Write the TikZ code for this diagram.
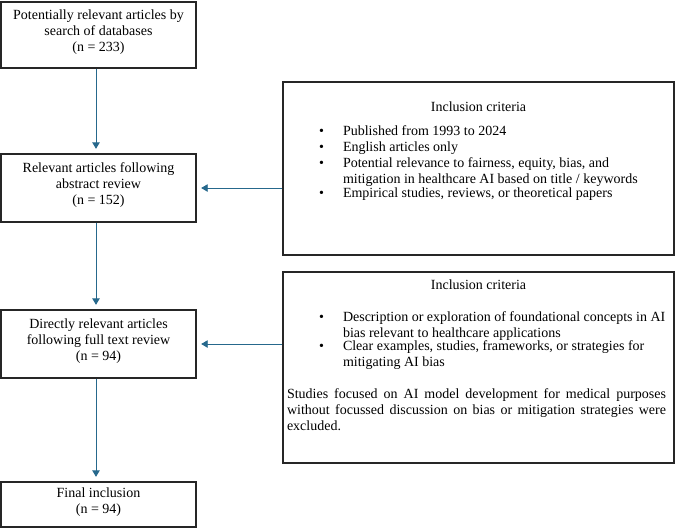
\documentclass[tikz,border=0pt]{standalone}
\usepackage{fontspec}
\setmainfont{Liberation Serif}
\usetikzlibrary{arrows.meta,positioning}
\definecolor{flowblue}{RGB}{38,104,140}
\newcommand{\critem}[1]{\noindent\hspace*{36pt}\makebox[24pt][l]{\textbullet}\parbox[t]{325pt}{#1}\par}

\begin{document}
\begin{tikzpicture}[x=1pt,y=1pt,
	stagebox/.style={draw=black!85,line width=1.4pt,align=center,minimum width=195pt,inner sep=2pt,text depth=8pt,font=\fontsize{14}{16}\selectfont},
	critbox/.style={draw=black!85,line width=1.4pt,inner sep=0pt,font=\fontsize{14}{16}\selectfont},
	flow/.style={flowblue,line width=0.9pt,-{Triangle[width=7.5pt,length=6.5pt]},shorten >=4.5pt}]
\useasboundingbox (0,0) rectangle (676,-528);
\node [stagebox,minimum height=66pt]	(search)	at (98.5,-35)	{Potentially relevant articles by\\search of databases\\(n = 233)};
\node [stagebox,minimum height=68pt]	(abstract)	at (98.5,-188)	{Relevant articles following\\abstract review\\(n = 152)};
\node [stagebox,minimum height=68pt]	(fulltext)	at (98.5,-344)	{Directly relevant articles\\following full text review\\(n = 94)};
\node [stagebox,minimum height=45pt]	(final)	at (98.5,-504.5)	{Final inclusion\\(n = 94)};

\node [critbox]	(critA)	at (478.5,-168.5)	{\parbox[t][173pt][t]{391pt}{\vspace*{19.9pt}
	{\centering Inclusion criteria\par}
	\vspace{8pt}
	\critem{Published from 1993 to 2024}
	\critem{English articles only}
	\critem{Potential relevance to fairness, equity, bias, and\\mitigation in healthcare AI based on title / keywords}
	\critem{Empirical studies, reviews, or theoretical papers}}};
\node [critbox]	(critB)	at (478.5,-367.5)	{\parbox[t][191pt][t]{391pt}{\vspace*{7.4pt}
	{\centering Inclusion criteria\par}
	\vspace{16pt}
	\critem{Description or exploration of foundational concepts in AI\\bias relevant to healthcare applications}
	\critem{Clear examples, studies, frameworks, or strategies for\\mitigating AI bias}
	\vspace{18pt}
	\noindent\hspace*{4pt}\parbox[t]{379pt}{Studies focused on AI model development for medical purposes\linebreak without focussed discussion on bias or mitigation strategies were\linebreak excluded.}}};

\draw [flow] ([xshift=-2.5pt]search.south)--([xshift=-2.5pt]abstract.north);
\draw [flow] ([xshift=-2.5pt]abstract.south)--([xshift=-2.5pt]fulltext.north);
\draw [flow] ([xshift=-2.5pt]fulltext.south)--([xshift=-2.5pt]final.north);
\draw [flow] (critA.west |- abstract.east)--(abstract.east);
\draw [flow] (critB.west |- fulltext.east)--(fulltext.east);
\end{tikzpicture}
\end{document}
